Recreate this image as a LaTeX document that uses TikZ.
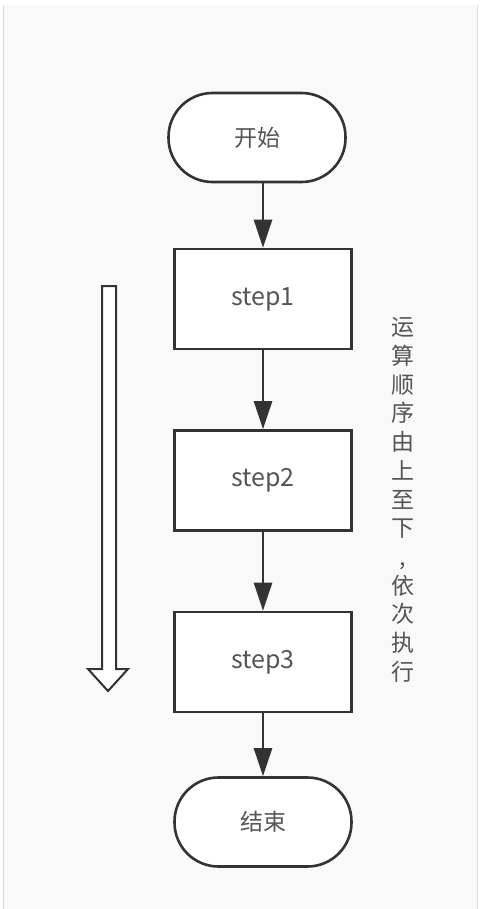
\documentclass[tikz,border=0pt]{standalone}
\usepackage{fontspec}
\setmainfont{Noto Sans CJK SC}
\usetikzlibrary{arrows.meta}
\definecolor{linea}{HTML}{333333}
\definecolor{texto}{HTML}{555555}
\definecolor{fondo}{HTML}{F9F9F9}
\definecolor{borde}{HTML}{DDDDDD}

\begin{document}
\begin{tikzpicture}[x=0.5pt, y=-0.5pt,
    every node/.style={draw=linea, line width=1.3pt, fill=white, text=texto,
        font=\fontsize{11.5}{14}\selectfont, minimum width=88.5pt, inner sep=0pt},
    terminal/.style={rounded corners=22pt, minimum height=44.5pt},
    stepbox/.style={minimum height=50pt, font=\fontsize{12.5}{14}\selectfont},
    nota/.style={draw=none, fill=none, minimum width=0pt, align=center,
        font=\fontsize{11.5}{14.35}\selectfont},
    arrow/.style={-{Triangle[length=14pt, width=9pt]}, draw=linea, line width=1.3pt}
]
\useasboundingbox (0,0) rectangle (479,909);

% Fondo
\fill[fondo] (3,5) rectangle (478,909);
\draw[borde, line width=0.8pt] (3.5,5) -- (3.5,909);
\draw[borde, line width=0.8pt] (477.5,5) -- (477.5,909);

% Posiciones de los nodos
\node[terminal] (inicio) at (257,137.5) {开始};
\node[stepbox] (s1) at (263,299) {step1};
\node[stepbox] (s2) at (263,480.5) {step2};
\node[stepbox] (s3) at (263,662) {step3};
\node[terminal] (fin) at (263,822) {结束};

% Nota vertical
\node[nota] (orden) at (403,500) {运\\算\\顺\\序\\由\\上\\至\\下\\,\\依\\次\\执\\行};

% Flechas
\draw[arrow] (s1.north |- inicio.south) -- (s1.north);
\draw[arrow] (s1) -- (s2);
\draw[arrow] (s2) -- (s3);
\draw[arrow] (s3) -- (fin);

% Flecha hueca
\draw[linea, line width=1pt, fill=white, line join=miter]
    (102,286) -- (116,286) -- (116,669) -- (128,669) -- (108,691)
    -- (88,669) -- (102,669) -- cycle;

\end{tikzpicture}
\end{document}
